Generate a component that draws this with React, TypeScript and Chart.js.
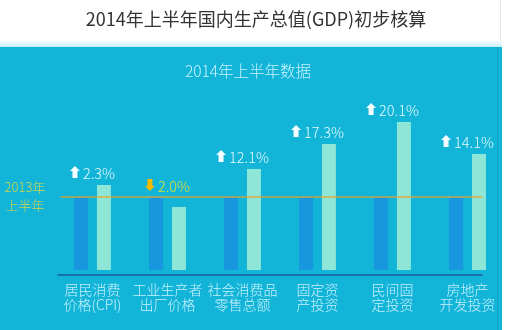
import { useEffect, useRef } from "react";
import { Chart, registerables } from "chart.js";

Chart.register(...registerables);

const TITLE = "2014年上半年国内生产总值(GDP)初步核算";
const SUBTITLE = "2014年上半年数据";
const BASELINE_LABEL = ["2013年", "上半年"];

const categories = [
  ["居民消费", "价格(CPI)"],
  ["工业生产者", "出厂价格"],
  ["社会消费品", "零售总额"],
  ["固定资", "产投资"],
  ["民间固", "定投资"],
  ["房地产", "开发投资"],
];
const baseline2013 = [72, 72, 72, 72, 72, 72];
const values2014 = [85, 63, 101, 126, 148, 116];
const baselineLevel = 73;
const changeLabels = ["2.3%", "2.0%", "12.1%", "17.3%", "20.1%", "14.1%"];
const changeUp = [true, false, true, true, true, true];

const FONT = '"Noto Sans CJK SC", "Noto Sans", sans-serif';
const PANEL = "#12b4d7";
const DARK_BAR = "#1896de";
const MINT_BAR = "#8ee6d6";

function drawArrow(ctx: CanvasRenderingContext2D, x: number, cy: number, up: boolean, color: string) {
  const w = 10, h = 12, sw = 5, hh = 5;
  ctx.save();
  ctx.fillStyle = color;
  ctx.beginPath();
  if (up) {
    const top = cy - h / 2;
    ctx.moveTo(x + w / 2, top);
    ctx.lineTo(x + w, top + hh);
    ctx.lineTo(x + w / 2 + sw / 2, top + hh);
    ctx.lineTo(x + w / 2 + sw / 2, top + h);
    ctx.lineTo(x + w / 2 - sw / 2, top + h);
    ctx.lineTo(x + w / 2 - sw / 2, top + hh);
    ctx.lineTo(x, top + hh);
  } else {
    const bot = cy + h / 2;
    ctx.moveTo(x + w / 2, bot);
    ctx.lineTo(x + w, bot - hh);
    ctx.lineTo(x + w / 2 + sw / 2, bot - hh);
    ctx.lineTo(x + w / 2 + sw / 2, bot - h);
    ctx.lineTo(x + w / 2 - sw / 2, bot - h);
    ctx.lineTo(x + w / 2 - sw / 2, bot - hh);
    ctx.lineTo(x, bot - hh);
  }
  ctx.closePath();
  ctx.fill();
  ctx.restore();
}

const decor = {
  id: "decor",
  beforeDraw(chart: any) {
    const { ctx, width, height } = chart;
    ctx.save();
    ctx.fillStyle = "#ffffff";
    ctx.fillRect(0, 0, width, height);
    const g = ctx.createLinearGradient(0, 40, 0, 48);
    g.addColorStop(0, "#ffffff");
    g.addColorStop(1, "#bdeef7");
    ctx.fillStyle = g;
    ctx.fillRect(0, 40, 502, 8);
    ctx.fillStyle = PANEL;
    ctx.fillRect(0, 47, 502, height - 47);
    ctx.fillStyle = "rgba(10,130,170,0.35)";
    ctx.fillRect(497, 47, 1, height - 47);
    ctx.fillStyle = "#e6e6e6";
    ctx.fillRect(500, 0, 1, 40);
    ctx.textAlign = "center";
    ctx.textBaseline = "middle";
    ctx.font = `400 18px ${FONT}`;
    ctx.fillStyle = "#333333";
    ctx.fillText(TITLE, 256, 19);
    ctx.font = `300 15.5px ${FONT}`;
    ctx.fillStyle = "#c8f3ff";
    ctx.fillText(SUBTITLE, 248, 71);
    ctx.restore();
  },
  afterDatasetsDraw(chart: any) {
    const { ctx, chartArea, scales } = chart;
    const x = scales.x, y = scales.y;
    const first = x.getPixelForValue(0);
    const last = x.getPixelForValue(categories.length - 1);
    ctx.save();
    ctx.strokeStyle = "#176fb0";
    ctx.lineWidth = 2;
    ctx.beginPath();
    ctx.moveTo(first - 35, chartArea.bottom);
    ctx.lineTo(last + 15, chartArea.bottom);
    ctx.stroke();
    const yb = y.getPixelForValue(baselineLevel);
    ctx.strokeStyle = "rgba(240,160,30,0.6)";
    ctx.lineWidth = 2;
    ctx.beginPath();
    ctx.moveTo(first - 32, yb);
    ctx.lineTo(last + 15, yb);
    ctx.stroke();
    ctx.font = `300 13px ${FONT}`;
    ctx.fillStyle = "#d2d64a";
    ctx.textAlign = "center";
    ctx.textBaseline = "middle";
    ctx.fillText(BASELINE_LABEL[0], 25, yb - 10);
    ctx.fillText(BASELINE_LABEL[1], 25, yb + 8);
    const m0 = chart.getDatasetMeta(0), m1 = chart.getDatasetMeta(1);
    ctx.font = `300 14.5px ${FONT}`;
    for (let i = 0; i < categories.length; i++) {
      const top = Math.min(m0.data[i].y, m1.data[i].y);
      const cy = top - 13;
      const cx = x.getPixelForValue(i);
      const text = changeLabels[i];
      const tw = ctx.measureText(text).width;
      const total = 10 + 3 + tw;
      const sx = cx - total / 2;
      const up = changeUp[i];
      drawArrow(ctx, sx, cy, up, up ? "#f4fdff" : "#f3b800");
      ctx.fillStyle = up ? "#e4fbff" : "#d6e23a";
      ctx.textAlign = "left";
      ctx.fillText(text, sx + 13, cy + 1);
    }
    ctx.restore();
  },
};

export default function App() {
  const ref = useRef<HTMLCanvasElement | null>(null);
  useEffect(() => {
    if (!ref.current) return;
    const chart = new Chart(ref.current, {
      type: "bar",
      data: {
        labels: categories,
        datasets: [
          {
            label: "2013年上半年",
            data: baseline2013,
            backgroundColor: DARK_BAR,
            borderWidth: 0,
            categoryPercentage: 0.61,
            barPercentage: 0.61,
          },
          {
            label: "2014年上半年",
            data: values2014,
            backgroundColor: MINT_BAR,
            borderWidth: 0,
            categoryPercentage: 0.61,
            barPercentage: 0.61,
          },
        ],
      },
      options: {
        responsive: false,
        animation: false,
        devicePixelRatio: 1,
        layout: { padding: { top: 100, left: 55, right: 0, bottom: 10 } },
        plugins: {
          legend: { display: false },
          title: { display: false },
          tooltip: { enabled: false },
        },
        scales: {
          x: {
            grid: { display: false, drawTicks: false },
            border: { display: false },
            ticks: {
              color: "#c9f1ff",
              padding: 7.5,
              maxRotation: 0,
              autoSkip: false,
              font: { family: FONT, size: 14, weight: "300", lineHeight: 1.07 },
            },
          },
          y: {
            display: false,
            min: -5,
            max: 170,
          },
        },
      },
      plugins: [decor],
    });
    return () => chart.destroy();
  }, []);
  return (
    <div style={{ position: "absolute", left: 0, top: 0, width: 505, height: 330 }}>
      <canvas ref={ref} width={505} height={330} />
    </div>
  );
}
